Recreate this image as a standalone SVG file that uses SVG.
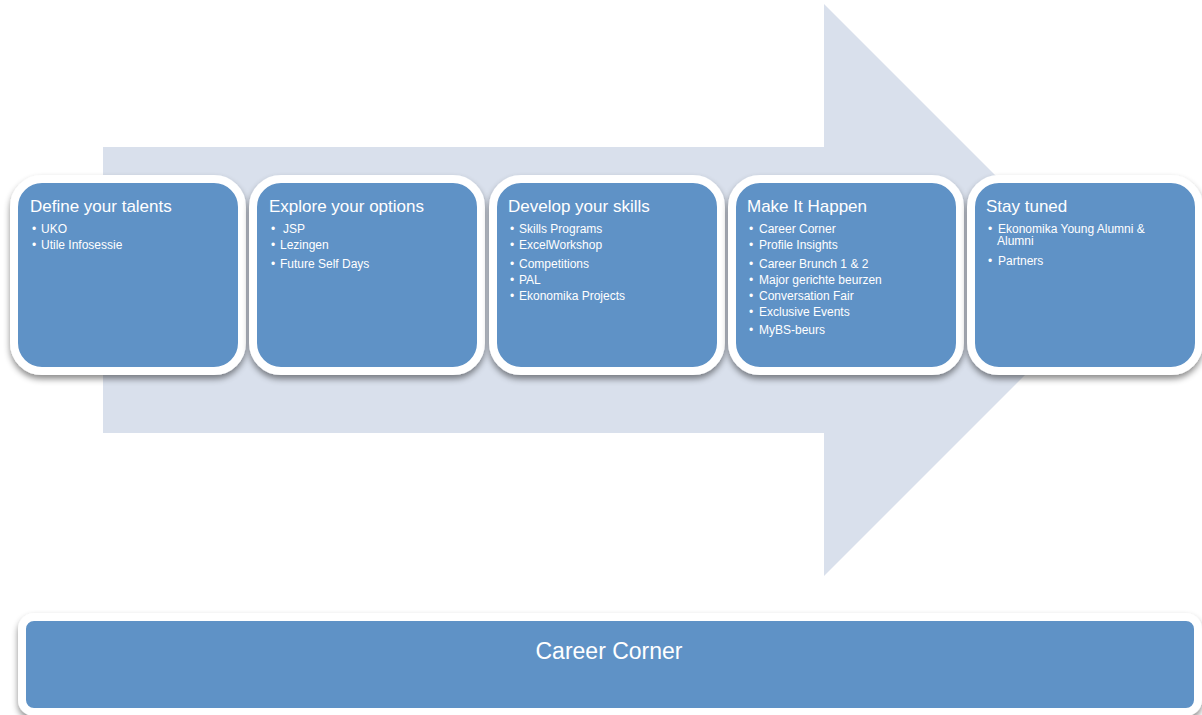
<svg xmlns="http://www.w3.org/2000/svg" width="1202" height="715" viewBox="0 0 1202 715">
<style>
.card{fill:#5F92C6;stroke:#FFFFFF;stroke-width:8}
.title{font-family:"Liberation Sans",Arial,sans-serif;font-size:17px;fill:#FFFFFF}
.item{font-family:"Liberation Sans",Arial,sans-serif;font-size:12px;fill:#FFFFFF}
.big{font-family:"Liberation Sans",Arial,sans-serif;font-size:23px;fill:#FFFFFF}
</style>
<defs>
<filter id="sh" x="-10%" y="-10%" width="120%" height="125%">
<feDropShadow dx="0" dy="4" stdDeviation="3" flood-color="#000000" flood-opacity="0.45"/>
</filter>
</defs>
<rect width="1202" height="715" fill="#FFFFFF"/>
<g id="arrow">
<polygon points="103,147 824,147 824,4 1110,290 824,576 824,433 103,433" fill="#D9E0EC"/>
</g>
<g id="connectors"></g>
<g id="card1">
<rect class="card" x="14" y="179" width="228" height="192" rx="28" filter="url(#sh)"/>
<text class="title" x="30" y="212">Define your talents</text>
<text class="item" x="32" y="233">•</text><text class="item" x="41" y="233">UKO</text>
<text class="item" x="32" y="249">•</text><text class="item" x="41" y="249">Utile Infosessie</text>
</g>
<g id="card2">
<rect class="card" x="253" y="179" width="228" height="192" rx="28" filter="url(#sh)"/>
<text class="title" x="269" y="212">Explore your options</text>
<text class="item" x="271" y="233">•</text><text class="item" x="283" y="233">JSP</text>
<text class="item" x="271" y="249">•</text><text class="item" x="280" y="249">Lezingen</text>
<text class="item" x="271" y="268">•</text><text class="item" x="280" y="268">Future Self Days</text>
</g>
<g id="card3">
<rect class="card" x="493" y="179" width="228" height="192" rx="28" filter="url(#sh)"/>
<text class="title" x="508" y="212">Develop your skills</text>
<text class="item" x="510" y="233">•</text><text class="item" x="519" y="233">Skills Programs</text>
<text class="item" x="510" y="249">•</text><text class="item" x="519" y="249">ExcelWorkshop</text>
<text class="item" x="510" y="268">•</text><text class="item" x="519" y="268">Competitions</text>
<text class="item" x="510" y="284">•</text><text class="item" x="519" y="284">PAL</text>
<text class="item" x="510" y="300">•</text><text class="item" x="519" y="300">Ekonomika Projects</text>
</g>
<g id="card4">
<rect class="card" x="732" y="179" width="228" height="192" rx="28" filter="url(#sh)"/>
<text class="title" x="747" y="212">Make It Happen</text>
<text class="item" x="749" y="233">•</text><text class="item" x="759" y="233">Career Corner</text>
<text class="item" x="749" y="249">•</text><text class="item" x="759" y="249">Profile Insights</text>
<text class="item" x="749" y="268">•</text><text class="item" x="759" y="268">Career Brunch 1 &amp; 2</text>
<text class="item" x="749" y="284">•</text><text class="item" x="759" y="284">Major gerichte beurzen</text>
<text class="item" x="749" y="300">•</text><text class="item" x="759" y="300">Conversation Fair</text>
<text class="item" x="749" y="316">•</text><text class="item" x="759" y="316">Exclusive Events</text>
<text class="item" x="749" y="334">•</text><text class="item" x="759" y="334">MyBS-beurs</text>
</g>
<g id="card5">
<rect class="card" x="971" y="179" width="228" height="192" rx="28" filter="url(#sh)"/>
<text class="title" x="986" y="212">Stay tuned</text>
<text class="item" x="988" y="233">•</text><text class="item" x="998" y="233">Ekonomika Young Alumni &amp;</text>
<text class="item" x="997" y="245">Alumni</text>
<text class="item" x="988" y="265">•</text><text class="item" x="998" y="265">Partners</text>
</g>
<g id="bottom">
<rect class="card" x="22" y="617" width="1176" height="95" rx="12" filter="url(#sh)"/>
<text class="big" x="609" y="659" text-anchor="middle">Career Corner</text>
</g>
</svg>
